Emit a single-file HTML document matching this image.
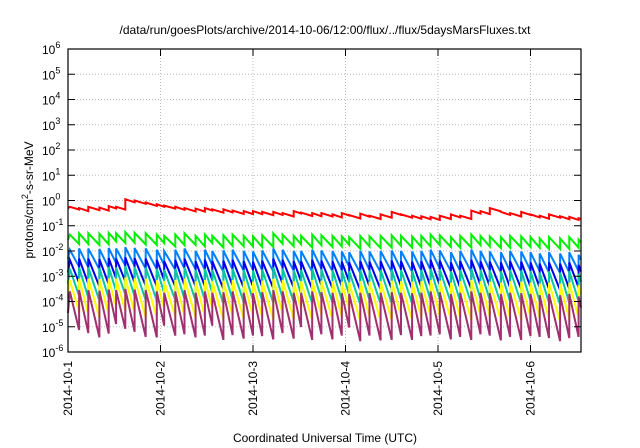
<!DOCTYPE html>
<html><head><meta charset="utf-8"><style>
html,body{margin:0;padding:0;background:#fff;}
svg{display:block;font-family:"Liberation Sans",sans-serif;}
</style></head><body>
<svg id="chart" width="640" height="448" viewBox="0 0 640 448" xmlns="http://www.w3.org/2000/svg">
<rect width="640" height="448" fill="#fff"/>
<text x="325" y="34" font-size="12" text-anchor="middle">/data/run/goesPlots/archive/2014-10-06/12:00/flux/../flux/5daysMarsFluxes.txt</text>
<text x="325" y="442" font-size="12" text-anchor="middle">Coordinated Universal Time (UTC)</text>
<text transform="translate(33,200) rotate(-90)" font-size="12" text-anchor="middle">protons/cm<tspan dy="-5" font-size="9">2</tspan><tspan dy="5">-s-sr-MeV</tspan></text>
<g id="grid"></g><g id="series"></g><g id="axes"></g>
</svg>
<script>
const xTickLabels=["2014-10-1","2014-10-2","2014-10-3","2014-10-4","2014-10-5","2014-10-6"];
const yTickExps=[-6,-5,-4,-3,-2,-1,0,1,2,3,4,5,6];
const toothTimes=[0.02,0.12,0.22,0.34,0.44,0.52,0.62,0.72,0.84,0.96,1.04,1.16,1.26,1.38,1.48,1.56,1.68,1.78,1.90,2.00,2.10,2.22,2.32,2.44,2.52,2.64,2.74,2.86,2.96,3.04,3.16,3.26,3.38,3.50,3.60,3.72,3.82,3.92,4.02,4.14,4.24,4.36,4.46,4.56,4.68,4.78,4.90,5.00,5.10,5.20,5.32,5.42,5.52];
const toothDepth=[0.9,1.0,1.1,1.0,0.8,0.9,1.0,1.1,1.1,0.8,1.0,1.0,1.1,1.0,0.8,1.1,1.0,1.1,1.0,1.0,1.1,1.0,1.1,0.8,1.1,1.0,1.1,1.0,0.8,1.1,1.0,1.1,1.1,1.0,1.1,1.0,1.0,1.0,1.1,1.0,1.1,1.0,1.0,1.1,1.0,1.1,1.0,1.0,1.0,1.1,1.0,1.0,1.0];
const redPeaks=[-0.25,-0.3,-0.25,-0.28,-0.22,-0.25,0.05,0.0,-0.08,-0.15,-0.2,-0.25,-0.3,-0.32,-0.3,-0.35,-0.35,-0.4,-0.42,-0.42,-0.45,-0.45,-0.5,-0.42,-0.48,-0.5,-0.5,-0.55,-0.5,-0.58,-0.52,-0.6,-0.55,-0.45,-0.55,-0.6,-0.62,-0.65,-0.6,-0.55,-0.6,-0.4,-0.42,-0.3,-0.45,-0.5,-0.45,-0.55,-0.6,-0.55,-0.62,-0.65,-0.7];
const greenPeaks=[-1.35,-1.3,-1.3,-1.32,-1.28,-1.3,-1.25,-1.28,-1.3,-1.35,-1.4,-1.35,-1.3,-1.4,-1.35,-1.4,-1.38,-1.35,-1.4,-1.42,-1.38,-1.3,-1.35,-1.4,-1.4,-1.35,-1.38,-1.4,-1.42,-1.45,-1.4,-1.42,-1.4,-1.38,-1.4,-1.42,-1.4,-1.35,-1.38,-1.45,-1.4,-1.35,-1.4,-1.42,-1.45,-1.4,-1.42,-1.45,-1.5,-1.45,-1.5,-1.45,-1.55];
const ltbluePeaks=[-1.95,-1.9,-1.9,-1.92,-1.88,-1.9,-1.85,-1.88,-1.9,-1.95,-2.0,-1.95,-1.9,-2.0,-1.95,-2.0,-1.98,-1.95,-2.0,-2.02,-1.98,-1.9,-1.95,-2.0,-2.0,-1.95,-1.98,-2.0,-2.02,-2.05,-2.0,-2.02,-2.0,-1.98,-2.0,-2.02,-2.0,-1.95,-1.98,-2.05,-2.0,-1.95,-2.0,-2.02,-2.05,-2.0,-2.02,-2.05,-2.1,-2.05,-2.1,-2.05,-2.15];
const bluePeaks=[-2.35,-2.3,-2.3,-2.32,-2.28,-2.3,-2.25,-2.28,-2.3,-2.35,-2.4,-2.35,-2.3,-2.4,-2.35,-2.4,-2.38,-2.35,-2.4,-2.42,-2.38,-2.3,-2.35,-2.4,-2.4,-2.35,-2.38,-2.4,-2.42,-2.45,-2.4,-2.42,-2.4,-2.38,-2.4,-2.42,-2.4,-2.35,-2.38,-2.45,-2.4,-2.35,-2.4,-2.42,-2.45,-2.4,-2.42,-2.45,-2.5,-2.45,-2.5,-2.45,-2.55];
const tealPeaks=[-2.7,-2.65,-2.65,-2.67,-2.63,-2.65,-2.6,-2.63,-2.65,-2.7,-2.75,-2.7,-2.65,-2.75,-2.7,-2.75,-2.73,-2.7,-2.75,-2.77,-2.73,-2.65,-2.7,-2.75,-2.75,-2.7,-2.73,-2.75,-2.77,-2.8,-2.75,-2.77,-2.75,-2.73,-2.75,-2.77,-2.75,-2.7,-2.73,-2.8,-2.75,-2.7,-2.75,-2.77,-2.8,-2.75,-2.77,-2.8,-2.85,-2.8,-2.85,-2.8,-2.9];
const yellowPeaks=[-3.15,-3.1,-3.1,-3.12,-3.08,-3.1,-3.05,-3.08,-3.1,-3.15,-3.2,-3.15,-3.1,-3.2,-3.15,-3.2,-3.18,-3.15,-3.2,-3.22,-3.18,-3.1,-3.15,-3.2,-3.2,-3.15,-3.18,-3.2,-3.22,-3.25,-3.2,-3.22,-3.2,-3.18,-3.2,-3.22,-3.2,-3.15,-3.18,-3.25,-3.2,-3.15,-3.2,-3.22,-3.25,-3.2,-3.22,-3.25,-3.3,-3.25,-3.3,-3.25,-3.35];
const purplePeaks=[-3.6,-3.55,-3.55,-3.57,-3.53,-3.55,-3.5,-3.53,-3.55,-3.6,-3.65,-3.6,-3.55,-3.65,-3.6,-3.65,-3.63,-3.6,-3.65,-3.67,-3.63,-3.55,-3.6,-3.65,-3.65,-3.6,-3.63,-3.65,-3.67,-3.7,-3.65,-3.67,-3.65,-3.63,-3.65,-3.67,-3.65,-3.6,-3.63,-3.7,-3.65,-3.6,-3.65,-3.67,-3.7,-3.65,-3.67,-3.7,-3.75,-3.7,-3.75,-3.7,-3.8];
const seriesNames=["red","green","light-blue","blue","teal","yellow","purple"];
const seriesColors=["#ff0000","#00ee00","#0080ff","#0000ee","#00c8a0","#ffff00","#a03070"];
const seriesPeaks=[redPeaks,greenPeaks,ltbluePeaks,bluePeaks,tealPeaks,yellowPeaks,purplePeaks];
const seriesDrops=[0.12,0.42,0.75,1.0,1.2,1.4,1.7];

const L=68,R=581,T=49,B=352,xMax=5.546;
const NS="http://www.w3.org/2000/svg";
const xs=d=>L+(d/xMax)*(R-L);
const ys=e=>B-(e+6)/12*(B-T);
function mk(tag,attrs,parent){const el=document.createElementNS(NS,tag);for(const k in attrs)el.setAttribute(k,attrs[k]);parent.appendChild(el);return el;}
const grid=document.getElementById('grid'),axes=document.getElementById('axes'),sg=document.getElementById('series');
yTickExps.forEach(e=>{
  const y=ys(e);
  if(e>-6&&e<6){const g=mk('line',{x1:L,x2:R,y1:y,y2:y,stroke:'#bbb','stroke-dasharray':'1,2','stroke-width':1},grid);
  
  }
  const t1=mk('line',{x1:L,x2:L+7,y1:y,y2:y,stroke:'#000'},axes);
  
  
  const t2=mk('line',{x1:R-7,x2:R,y1:y,y2:y,stroke:'#000'},axes);
  
  
  const lab=mk('text',{x:42,y:y+5,'font-size':12,'text-anchor':'start'},axes);
  
  
  lab.innerHTML='10<tspan dy="-6" font-size="9">'+e+'</tspan>';
});
xTickLabels.forEach((s,i)=>{
  const x=xs(i);
  if(i>0){const g=mk('line',{x1:x,x2:x,y1:T,y2:B,stroke:'#bbb','stroke-dasharray':'1,2'},grid);
  
  }
  const t=mk('line',{x1:x,x2:x,y1:B,y2:B-7,stroke:'#000'},axes);
  
  
  const t2=mk('line',{x1:x,x2:x,y1:T,y2:T+7,stroke:'#000'},axes);
  
  
  const lab=mk('text',{transform:`translate(${x+4},${B+9}) rotate(-90)`,'font-size':12,'text-anchor':'end'},axes);
  
  
  lab.textContent=s;
});
const frame=mk('rect',{x:L,y:T,width:R-L,height:B-T,fill:'none',stroke:'#000','stroke-width':1.2},axes);


seriesPeaks.forEach((pk,si)=>{
  const pts=[];
  for(let i=0;i<toothTimes.length;i++){
    const t0=toothTimes[i],t1=i+1<toothTimes.length?toothTimes[i+1]:xMax;
    if(i>0)pts.push([t0,pk[i-1]-seriesDrops[si]*toothDepth[i-1]]);
    else pts.push([0,pk[0]-seriesDrops[si]*0.5]);
    pts.push([t0,pk[i]]);
    if(i+1===toothTimes.length)pts.push([t1,pk[i]-seriesDrops[si]*toothDepth[i]*(t1-t0)/0.1]);
  }
  const d=pts.map((p,j)=>(j?'L':'M')+xs(Math.min(p[0],xMax)).toFixed(1)+','+ys(p[1]).toFixed(1)).join(' ');
  const path=mk('path',{d:d,fill:'none',stroke:seriesColors[si],'stroke-width':2,'stroke-linejoin':'miter'},sg);
  
  
});
</script>
</body></html>
